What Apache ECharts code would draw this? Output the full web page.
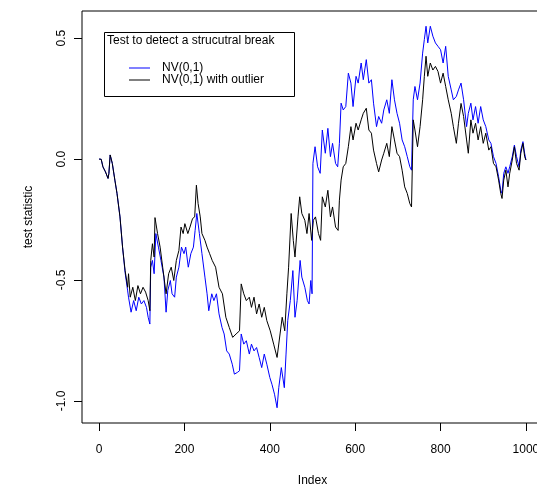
<!DOCTYPE html>
<html>
<head>
<meta charset="utf-8">
<script src="https://cdn.jsdelivr.net/npm/echarts@6/dist/echarts.min.js"></script>
<style>
  html, body { margin: 0; padding: 0; background: #fff; }
  #chart { width: 537px; height: 486px; }
</style>
</head>
<body>
<div id="chart"></div>
<script>
// NV(0,1) - blue
const blueIdx = [0, 5, 9, 15, 21, 23, 26, 31, 37, 42, 49, 55, 61, 67, 69, 75, 81, 87, 93, 99,
  105, 111, 115, 119, 121, 125, 129, 133, 139, 145, 152, 157, 161, 167, 171, 177, 181, 187, 193, 199,
  203, 209, 215, 221, 225, 229, 235, 241, 248, 253, 257, 264, 269, 275, 281, 288, 293, 299, 305, 312,
  317, 324, 329, 333, 339, 345, 352, 357, 363, 369, 375, 381, 387, 393, 400, 405, 411, 417, 421, 427,
  434, 438, 442, 448, 454, 459, 464, 471, 475, 482, 488, 492, 496, 499, 501, 506, 512, 518, 523, 530,
  536, 542, 547, 554, 559, 563, 567, 572, 578, 584, 590, 595, 602, 607, 614, 619, 626, 632, 638, 643,
  650, 655, 662, 667, 674, 680, 686, 692, 698, 704, 710, 716, 722, 728, 732, 736, 740, 746, 752, 758,
  762, 766, 770, 776, 782, 788, 794, 800, 806, 812, 818, 825, 830, 837, 842, 848, 854, 861, 865, 871,
  876, 882, 888, 894, 900, 906, 913, 918, 924, 930, 936, 941, 944, 948, 953, 958, 962, 968, 973, 978,
  984, 988, 993, 997, 1000]
const blueVal = [0, -0.001, -0.032, -0.053, -0.08, -0.059, 0.017, -0.018, -0.087, -0.142, -0.239, -0.364, -0.47, -0.545, -0.571, -0.633, -0.585, -0.627, -0.571, -0.599,
  -0.585, -0.613, -0.654, -0.682, -0.447, -0.419, -0.474, -0.308, -0.364, -0.419, -0.488, -0.633, -0.543, -0.502, -0.557, -0.571, -0.488, -0.447, -0.364, -0.391,
  -0.364, -0.447, -0.391, -0.364, -0.295, -0.225, -0.308, -0.391, -0.488, -0.557, -0.627, -0.557, -0.585, -0.557, -0.64, -0.696, -0.723, -0.793, -0.806, -0.848,
  -0.889, -0.882, -0.875, -0.723, -0.765, -0.751, -0.806, -0.765, -0.793, -0.779, -0.82, -0.862, -0.806, -0.848, -0.903, -0.931, -0.972, -1.028, -0.945, -0.862,
  -0.945, -0.806, -0.668, -0.585, -0.461, -0.654, -0.585, -0.419, -0.488, -0.53, -0.585, -0.599, -0.502, -0.557, -0.018, 0.051, -0.032, -0.059, 0.12, 0.024,
  0.127, 0.01, 0.065, -0.018, -0.032, 0.065, 0.231, 0.203, 0.217, 0.355, 0.314, 0.217, 0.342, 0.314, 0.397, 0.328, 0.411, 0.314, 0.328, 0.231,
  0.134, 0.176, 0.148, 0.203, 0.245, 0.189, 0.328, 0.245, 0.189, 0.148, 0.079, 0.051, 0.01, -0.032, -0.046, 0.245, 0.3, 0.245, 0.314, 0.438,
  0.494, 0.549, 0.48, 0.549, 0.508, 0.48, 0.466, 0.452, 0.397, 0.466, 0.342, 0.286, 0.245, 0.259, 0.286, 0.314, 0.245, 0.134, 0.189, 0.231,
  0.162, 0.217, 0.148, 0.217, 0.162, 0.134, 0.079, 0.065, 0.01, -0.018, -0.073, -0.129, -0.142, -0.059, -0.032, -0.059, -0.032, 0.01, 0.058, 0.01,
  -0.032, 0.037, 0.072, 0.024, -0.004]

// NV(0,1) with outlier - black
const blackIdx = [0, 5, 9, 15, 21, 23, 26, 31, 37, 42, 49, 55, 61, 67, 69, 73, 79, 85, 91, 97,
  103, 109, 115, 119, 121, 125, 129, 131, 137, 143, 149, 157, 163, 169, 175, 181, 187, 192, 197, 201,
  208, 213, 219, 224, 228, 232, 237, 241, 248, 253, 259, 265, 273, 281, 289, 297, 305, 313, 321, 329,
  333, 339, 345, 352, 357, 363, 369, 375, 381, 387, 393, 401, 409, 417, 424, 429, 435, 440, 444, 450,
  455, 459, 466, 470, 475, 482, 487, 492, 498, 502, 507, 514, 519, 523, 530, 536, 542, 547, 554, 560,
  563, 567, 572, 578, 584, 590, 595, 602, 607, 614, 619, 626, 632, 638, 643, 650, 655, 662, 667, 674,
  680, 686, 692, 698, 704, 710, 716, 722, 728, 732, 736, 740, 746, 752, 758, 762, 766, 770, 776, 782,
  788, 794, 800, 806, 812, 818, 825, 830, 837, 842, 848, 854, 861, 865, 871, 876, 882, 888, 894, 900,
  906, 913, 918, 924, 930, 936, 941, 944, 948, 953, 958, 962, 968, 973, 978, 984, 988, 993, 997, 1000]
const blackVal = [0, -0.001, -0.032, -0.053, -0.08, -0.059, 0.017, -0.018, -0.087, -0.142, -0.239, -0.364, -0.461, -0.53, -0.474, -0.571, -0.53, -0.585, -0.523, -0.557,
  -0.53, -0.55, -0.585, -0.627, -0.419, -0.35, -0.405, -0.242, -0.308, -0.364, -0.447, -0.557, -0.474, -0.447, -0.502, -0.419, -0.378, -0.281, -0.308, -0.267,
  -0.308, -0.281, -0.246, -0.239, -0.108, -0.184, -0.239, -0.308, -0.336, -0.364, -0.391, -0.419, -0.447, -0.53, -0.557, -0.654, -0.696, -0.737, -0.723, -0.71,
  -0.516, -0.557, -0.585, -0.571, -0.613, -0.571, -0.64, -0.599, -0.654, -0.613, -0.668, -0.71, -0.765, -0.82, -0.723, -0.654, -0.71, -0.557, -0.447, -0.225,
  -0.336, -0.405, -0.239, -0.156, -0.225, -0.253, -0.308, -0.225, -0.336, -0.253, -0.239, -0.308, -0.336, -0.156, -0.198, -0.129, -0.239, -0.198, -0.281, -0.295,
  -0.17, -0.087, -0.032, -0.018, 0.051, 0.134, 0.079, 0.148, 0.12, 0.162, 0.189, 0.21, 0.12, 0.107, 0.037, -0.018, -0.053, -0.004, 0.024, 0.065,
  0.01, 0.134, 0.079, 0.024, 0.01, -0.046, -0.115, -0.142, -0.184, -0.198, 0.162, 0.12, 0.051, 0.134, 0.245, 0.342, 0.425, 0.342, 0.397, 0.368,
  0.383, 0.362, 0.314, 0.355, 0.3, 0.245, 0.189, 0.134, 0.065, 0.148, 0.23, 0.176, 0.079, 0.024, 0.162, 0.107, 0.148, 0.079, 0.134, 0.065,
  0.107, 0.037, 0.051, -0.018, -0.032, -0.087, -0.142, -0.163, -0.087, -0.046, -0.115, -0.059, -0.004, 0.051, -0.018, -0.046, 0.024, 0.065, 0.01, -0.004]

const xTicks = [0, 200, 400, 600, 800, 1000]
const yTicks = [-1.0, -0.5, 0.0, 0.5]

const legendTitle = 'Test to detect a strucutral break'
const seriesNames = ['NV(0,1)', 'NV(0,1) with outlier']

const chart = echarts.init(document.getElementById('chart'))
const font = 'Liberation Sans, Arial, sans-serif'

const option = {
  animation: false,
  backgroundColor: '#fff',
  textStyle: { fontFamily: font },
  grid: {
    left: 82,
    top: 11,
    width: 461,
    height: 412,
    outerBoundsMode: 'none',
    containLabel: false,
    show: true,
    borderColor: '#000',
    borderWidth: 1,
    backgroundColor: 'transparent',
  },
  title: {
    text: legendTitle,
    left: 107,
    top: 35,
    padding: 0,
    textStyle: { fontFamily: font, fontSize: 12, fontWeight: 'normal', color: '#000' },
  },
  legend: {
    orient: 'vertical',
    left: 129,
    top: 62,
    padding: 0,
    icon: 'rect',
    itemWidth: 21,
    itemHeight: 1,
    itemGap: 0,
    data: seriesNames,
    textStyle: { fontFamily: font, fontSize: 12, color: '#000', padding: [0, 0, 0, 7], lineHeight: 12 },
  },
  graphic: [
    {
      type: 'rect',
      left: 104,
      top: 32,
      shape: { width: 190, height: 64 },
      style: { fill: 'transparent', stroke: '#000', lineWidth: 1 },
      z: 100,
    },
  ],
  xAxis: {
    type: 'value',
    min: -40,
    max: 1040,
    name: 'Index',
    nameLocation: 'middle',
    nameGap: 52,
    nameTextStyle: { fontFamily: font, fontSize: 12, color: '#000' },
    axisLine: { show: false, onZero: false },
    axisTick: { show: true, inside: false, length: 8, customValues: xTicks, lineStyle: { color: '#000' } },
    axisLabel: {
      customValues: xTicks,
      margin: 21,
      fontSize: 12,
      color: '#000',
      fontFamily: font,
      formatter: (v) => String(v),
    },
    splitLine: { show: false },
  },
  yAxis: {
    type: 'value',
    min: -1.091,
    max: 0.612,
    name: 'test statistic',
    nameLocation: 'middle',
    nameRotate: 90,
    nameGap: 47,
    nameTextStyle: { fontFamily: font, fontSize: 12, color: '#000' },
    axisLine: { show: false, onZero: false },
    axisTick: { show: true, inside: false, length: 8, customValues: yTicks, lineStyle: { color: '#000' } },
    axisLabel: {
      customValues: yTicks,
      rotate: 90,
      margin: 14,
      fontSize: 12,
      color: '#000',
      fontFamily: font,
      formatter: (v) => v.toFixed(1),
    },
    splitLine: { show: false },
  },
  series: [
    {
      name: seriesNames[0],
      type: 'line',
      data: blueIdx.map((x, i) => [x, blueVal[i]]),
      showSymbol: false,
      symbol: 'none',
      lineStyle: { color: '#0000ff', width: 1 },
      itemStyle: { color: '#0000ff' },
    },
    {
      name: seriesNames[1],
      type: 'line',
      data: blackIdx.map((x, i) => [x, blackVal[i]]),
      showSymbol: false,
      symbol: 'none',
      lineStyle: { color: '#000', width: 1 },
      itemStyle: { color: '#000' },
    },
  ],
}

option && chart.setOption(option)
</script>
</body>
</html>
